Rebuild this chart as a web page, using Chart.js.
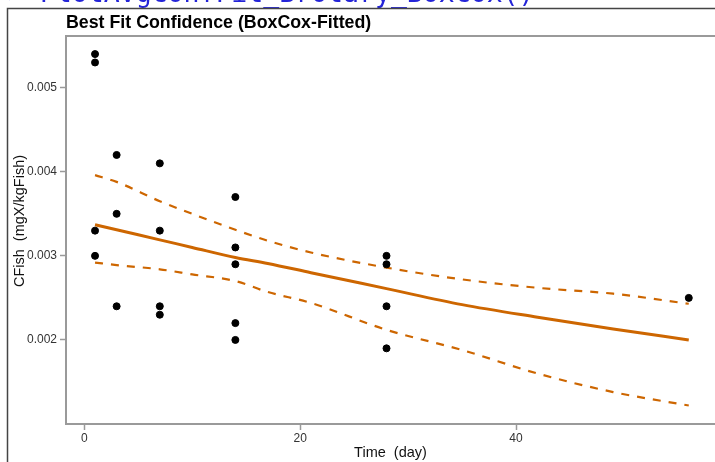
<!DOCTYPE html>
<html>
<head>
<meta charset="utf-8">
<script src="https://cdn.jsdelivr.net/npm/chart.js@4.4.0/dist/chart.umd.min.js"></script>
<style>
  html, body { margin: 0; padding: 0; background: #fff; overflow: hidden; }
</style>
</head>
<body>
<canvas id="c" width="715" height="462"></canvas>
<script>
// observed data (day, CFish)
const obsDays = [1, 1, 1, 1, 3, 3, 3, 7, 7, 7, 7, 14, 14, 14, 14, 14, 28, 28, 28, 28, 56];
const obsCFish = [0.0054, 0.0053, 0.0033, 0.0030, 0.0042, 0.0035, 0.0024,
  0.0041, 0.0033, 0.0024, 0.0023, 0.0037, 0.0031, 0.0029, 0.0022, 0.0020,
  0.0030, 0.0029, 0.0024, 0.0019, 0.0025];

// fitted curve and confidence band
const fitDays = [1, 3, 7, 10, 14, 17, 21, 28, 35, 42, 49, 56];
const fitCFish = [0.00337, 0.00331, 0.00319, 0.00310, 0.00298, 0.00291, 0.00280, 0.00261, 0.00242, 0.00227, 0.00213, 0.00200];
const upperCFish = [0.00396, 0.00388, 0.00365, 0.00350, 0.00331, 0.00318, 0.00304, 0.00286, 0.00272, 0.00262, 0.00255, 0.00243];
const lowerCFish = [0.00292, 0.00289, 0.00284, 0.00278, 0.00270, 0.00257, 0.00244, 0.00212, 0.00188, 0.00160, 0.00138, 0.00122];

const xTicks = [0, 20, 40];
const yTicks = [0.002, 0.003, 0.004, 0.005];

const orange = "#CD6600";
const axisGray = "#9a9a9a";
const tickText = "#333333";

function pairs(xs, ys) {
  return xs.map((x, i) => ({ x: x, y: ys[i] }));
}

const decor = {
  id: "decor",
  beforeDraw(chart) {
    const ctx = chart.ctx;
    ctx.save();
    ctx.fillStyle = "#fff";
    ctx.fillRect(0, 0, chart.width, chart.height);
    // console echo peeking in at the top
    ctx.font = '26.5px "DejaVu Sans Mono"';
    ctx.fillStyle = "#2424D8";
    ctx.textBaseline = "alphabetic";
    ctx.fillText("> PlotAvgConfFit_Brotary_BoxCox()", 8, 1.5);
    // window frame
    ctx.strokeStyle = "#444";
    ctx.lineWidth = 1.5;
    ctx.beginPath();
    ctx.moveTo(7.5, chart.height);
    ctx.lineTo(7.5, 8.5);
    ctx.lineTo(chart.width, 8.5);
    ctx.stroke();
    // main title
    ctx.fillStyle = "#000";
    ctx.font = 'bold 17.8px "Liberation Sans", Arial, sans-serif';
    ctx.fillText("Best Fit Confidence (BoxCox-Fitted)", 66, 27.5);
    // y axis title
    ctx.font = '14.5px "Liberation Sans", Arial, sans-serif';
    ctx.fillStyle = "#111";
    ctx.translate(20, 221);
    ctx.rotate(-Math.PI / 2);
    ctx.textAlign = "center";
    ctx.textBaseline = "middle";
    ctx.fillText("CFish  (mgX/kgFish)", 0, 0);
    ctx.restore();
  },
  afterDraw(chart) {
    const a = chart.chartArea;
    const ctx = chart.ctx;
    ctx.save();
    ctx.strokeStyle = axisGray;
    ctx.lineWidth = 2;
    ctx.beginPath();
    ctx.moveTo(a.left, a.top);
    ctx.lineTo(a.right, a.top);
    ctx.stroke();
    ctx.restore();
  }
};

new Chart(document.getElementById("c"), {
  type: "scatter",
  data: {
    datasets: [
      {
        label: "Observed",
        data: pairs(obsDays, obsCFish),
        backgroundColor: "#000",
        borderColor: "#000",
        pointRadius: 3.5,
        showLine: false,
        order: 0
      },
      {
        label: "Fit",
        data: pairs(fitDays, fitCFish),
        showLine: true,
        borderColor: orange,
        borderWidth: 3,
        pointRadius: 0,
        cubicInterpolationMode: "monotone",
        order: 1
      },
      {
        label: "Upper",
        data: pairs(fitDays, upperCFish),
        showLine: true,
        borderColor: orange,
        borderWidth: 2.2,
        borderDash: [8, 8],
        pointRadius: 0,
        cubicInterpolationMode: "monotone",
        order: 2
      },
      {
        label: "Lower",
        data: pairs(fitDays, lowerCFish),
        showLine: true,
        borderColor: orange,
        borderWidth: 2.2,
        borderDash: [8, 8],
        pointRadius: 0,
        cubicInterpolationMode: "monotone",
        order: 3
      }
    ]
  },
  options: {
    responsive: false,
    animation: false,
    layout: { padding: { top: 36, left: 0, right: 0, bottom: 0 }, autoPadding: false },
    plugins: {
      legend: { display: false },
      tooltip: { enabled: false }
    },
    scales: {
      x: {
        type: "linear",
        min: -1.69,
        max: 58.43,
        afterBuildTicks: (s) => { s.ticks = xTicks.map((v) => ({ value: v })); },
        afterFit: (s) => { s.height = 38; },
        grid: { drawOnChartArea: false, tickLength: 6, color: axisGray, tickWidth: 1.5 },
        border: { color: axisGray, width: 2 },
        ticks: {
          padding: 1,
          color: tickText,
          font: { family: '"Liberation Sans", Arial, sans-serif', size: 12 },
          maxRotation: 0,
          callback: (v) => String(v)
        },
        title: {
          display: true,
          text: "Time  (day)",
          color: "#111",
          padding: { top: 0, bottom: 0 },
          font: { family: '"Liberation Sans", Arial, sans-serif', size: 14.5 }
        }
      },
      y: {
        type: "linear",
        min: 0.001,
        max: 0.005615,
        afterBuildTicks: (s) => { s.ticks = yTicks.map((v) => ({ value: v })); },
        afterFit: (s) => { s.width = 66; },
        grid: { drawOnChartArea: false, tickLength: 6, color: axisGray, tickWidth: 1.5 },
        border: { color: axisGray, width: 2 },
        ticks: {
          padding: 3,
          color: tickText,
          font: { family: '"Liberation Sans", Arial, sans-serif', size: 12 },
          callback: (v) => v.toFixed(3)
        }
      }
    }
  },
  plugins: [decor]
});
</script>
</body>
</html>
